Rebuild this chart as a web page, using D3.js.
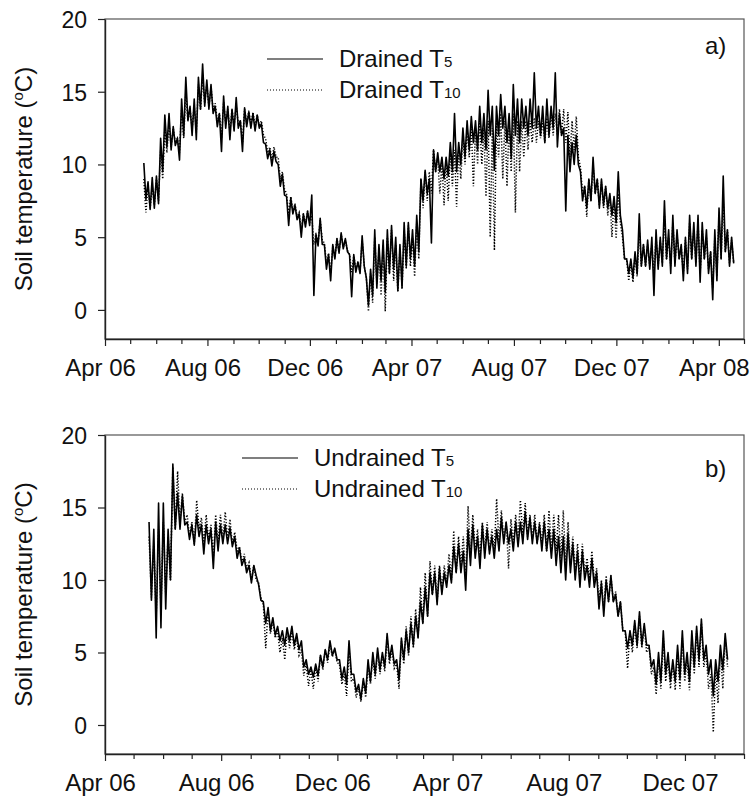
<!DOCTYPE html>
<html>
<head>
<meta charset="utf-8">
<script src="https://cdn.jsdelivr.net/npm/d3@7"></script>
<style>
  html, body { margin: 0; padding: 0; background: #fff; }
  svg { display: block; font-family: "Liberation Sans", Arial, Helvetica, sans-serif; }
</style>
</head>
<body>
<svg id="chart" width="752" height="805"></svg>
<script>
// Soil temperature records, summarised as low/high pairs over 5-day windows.
// Windows start 45 days after 1 April 2006 (16 May 2006).
const firstDay = 45;
const windowDays = 5;

// a) Drained site
const drainedT5Lo = [7.6,6.9,7.0,7.3,9.5,11.2,11.0,11.3,10.3,12.0, 13.0,12.0,11.7,13.8,14.0,13.8,13.5,12.6,10.9,12.5, 11.7,12.3,12.5,10.9,12.6,12.5,12.3,12.5,11.5,10.4, 9.9,10.2,8.5,7.9,5.8,6.6,6.2,5.0,5.7,5.8, 1.0,4.4,4.5,2.8,2.0,3.5,3.9,4.2,4.0,0.9, 2.6,2.5,3.0,0.3,1.0,1.5,2.0,1.2,2.5,2.8, 1.3,1.5,3.0,3.5,3.0,4.0,7.5,8.0,4.6,9.5, 9.5,9.0,9.2,9.5,9.5,10.0,10.5,11.0,11.5,11.0, 11.5,11.0,12.0,9.6,12.0,12.5,11.5,10.4,12.0,11.5, 12.5,12.0,12.5,12.5,12.0,11.5,12.0,12.5,11.2,12.0, 6.8,9.5,10.0,10.0,7.5,7.0,7.5,8.0,7.0,7.2, 7.0,6.5,6.0,6.5,3.5,2.5,2.2,2.5,3.0,3.0, 2.8,1.0,2.8,3.0,3.5,2.5,3.0,3.5,2.0,2.5, 3.5,3.0,1.9,3.5,2.5,0.7,2.0,3.5,4.0,3.0, 3.2];
const drainedT5Hi = [10.1,8.8,9.1,9.2,11.8,13.4,13.5,12.6,11.8,14.5, 16.0,14.0,14.5,16.0,16.9,15.8,15.5,14.0,13.5,14.7, 14.0,13.8,14.6,13.0,13.9,13.6,13.5,13.4,12.8,11.4, 11.0,10.9,10.0,9.3,7.8,7.7,7.2,6.6,6.6,6.8, 7.9,5.2,6.3,4.5,3.8,4.5,4.9,5.3,4.9,3.8, 3.8,3.3,5.1,2.2,2.8,5.5,4.5,4.8,5.5,5.8, 5.0,4.5,6.0,6.0,5.5,6.5,9.0,9.6,9.0,11.0, 10.8,10.5,10.5,11.5,13.5,11.5,12.5,13.0,13.3,13.0, 14.0,13.5,15.1,14.0,14.0,14.8,14.0,13.5,15.5,14.5, 14.5,14.0,14.5,16.3,14.0,14.0,14.5,14.0,16.3,13.5, 12.5,12.0,11.5,12.0,9.5,8.5,9.0,10.5,9.0,9.0, 8.5,8.0,7.8,9.5,5.5,3.5,3.5,4.0,6.6,4.5, 4.8,5.0,5.5,5.0,7.5,5.5,6.5,5.5,4.5,5.0, 6.5,6.0,6.5,6.0,5.5,4.0,5.5,7.0,9.2,5.5, 5.0];
const drainedT10Lo = [6.7,7.0,7.2,7.5,9.0,10.8,11.2,11.5,10.8,11.8, 13.0,12.5,12.2,13.8,14.2,14.0,13.8,13.0,11.8,12.8, 12.3,12.6,12.8,11.5,12.8,12.8,12.6,12.7,12.0,10.8, 10.3,10.5,9.0,8.3,6.5,6.8,6.4,5.6,5.9,6.0, 4.5,4.5,4.8,3.2,2.5,3.6,4.0,4.3,4.1,2.6, 2.8,2.6,3.0,-0.1,0.5,1.8,1.0,-0.1,2.5,2.0, 1.3,1.5,2.8,3.0,2.3,3.5,7.0,7.5,8.0,9.5, 8.0,7.2,7.5,8.5,7.1,9.0,10.0,10.5,8.5,10.0, 10.0,7.8,5.0,4.1,10.5,9.0,8.5,9.5,6.7,9.5, 10.5,11.0,11.5,11.5,11.8,11.5,11.8,12.0,12.0,12.0, 11.5,10.5,11.0,10.5,8.0,6.4,7.5,8.0,7.2,7.0, 6.5,5.0,4.9,6.0,3.5,2.0,1.9,2.3,3.0,3.0, 3.0,2.5,3.0,3.2,3.5,3.0,3.2,3.5,2.5,2.8, 3.5,3.2,2.5,3.5,2.8,1.5,2.3,3.5,4.0,3.2, 3.2];
const drainedT10Hi = [9.0,8.5,8.5,9.0,11.0,12.5,12.8,12.5,11.8,13.8, 15.0,13.8,14.0,15.5,16.0,15.5,15.3,14.2,13.5,14.3, 13.8,13.8,14.0,13.0,13.8,13.7,13.6,13.4,13.0,11.8, 11.2,11.2,10.5,9.5,8.0,7.8,7.3,6.7,6.6,6.8, 6.5,5.3,6.2,4.6,3.9,4.4,4.9,5.2,4.8,3.8, 3.7,3.3,4.8,2.2,2.5,5.0,4.0,4.5,5.0,5.5, 4.5,4.2,5.5,5.8,5.0,6.0,9.0,9.5,9.5,11.0, 10.5,10.0,10.2,11.0,11.0,11.0,12.0,12.5,12.5,12.5, 13.0,12.5,13.0,12.5,13.0,13.5,13.0,13.0,13.5,13.0, 13.0,13.0,13.0,13.2,13.0,13.0,13.2,13.5,13.5,13.8, 13.8,13.6,13.0,13.3,9.8,8.5,9.0,10.0,9.0,8.8, 8.5,7.8,7.5,8.0,5.0,3.5,3.3,3.8,5.5,4.5, 4.5,4.5,5.0,4.8,6.5,5.0,6.0,5.2,4.3,4.8, 6.0,5.5,6.0,5.5,5.0,4.0,5.0,6.5,7.5,5.5, 4.8];

// b) Undrained site
const undrainedT5Lo = [8.6,6.0,6.7,8.0,10.0,13.5,13.5,13.8,12.8,12.4, 13.0,11.8,12.5,10.8,12.0,12.5,12.5,12.3,11.5,11.0, 10.5,9.8,10.3,8.6,7.0,6.5,6.2,5.8,5.5,5.8, 5.5,5.2,4.0,3.5,3.3,3.4,4.0,4.5,4.8,4.5, 3.2,2.8,3.5,2.3,1.8,2.2,3.0,3.5,3.8,4.0, 4.5,4.2,3.1,4.5,5.0,5.5,6.0,7.0,7.5,9.0, 8.3,9.0,9.5,9.8,10.5,10.5,9.3,11.0,11.5,10.8, 11.5,11.8,11.5,12.0,12.5,12.5,12.0,12.3,12.5,12.8, 12.5,12.5,12.0,12.0,11.5,11.0,10.5,10.0,10.5,10.0, 9.5,10.0,9.5,9.5,8.0,7.5,8.5,8.5,7.5,6.5, 5.3,5.5,5.5,5.5,5.5,4.0,2.8,3.0,3.5,3.0, 3.0,3.2,3.5,3.0,4.0,4.5,4.5,3.5,2.0,3.0, 3.8,4.5];
const undrainedT5Hi = [14.0,13.5,15.3,15.3,13.5,18.0,16.0,15.8,14.0,13.8, 14.5,13.8,13.8,13.5,14.0,13.8,13.8,13.6,13.0,12.2, 11.5,11.0,11.0,9.7,8.5,8.1,7.4,6.8,6.5,6.7, 6.8,6.3,5.8,4.5,4.0,4.2,4.8,5.2,5.8,5.3, 4.5,4.0,5.8,3.5,2.8,3.2,4.5,5.0,5.3,5.0, 6.3,5.5,4.5,6.0,6.5,7.0,7.5,8.5,9.5,10.5, 10.5,10.8,10.5,11.0,12.3,12.5,12.0,13.5,13.8,13.0, 13.8,13.5,13.0,13.5,14.3,14.0,13.5,14.0,14.0,14.7, 14.3,14.0,13.8,14.0,13.5,13.5,13.0,13.0,13.2,12.5, 12.0,12.0,11.0,11.5,10.5,9.8,10.0,10.3,9.0,8.5, 6.5,6.5,7.2,7.8,7.0,5.5,4.5,5.0,6.5,5.0, 4.5,5.5,6.5,5.0,6.5,6.8,7.3,5.5,4.5,4.5, 5.5,6.3];
const undrainedT10Lo = [8.8,7.5,8.0,9.0,10.0,13.5,14.0,14.0,13.0,12.5, 13.5,12.5,12.8,11.5,12.5,12.8,12.8,12.5,12.0,11.2, 10.8,10.0,10.0,8.8,5.3,6.3,6.0,5.0,4.5,5.3, 5.2,4.8,3.4,2.7,2.5,3.0,3.8,4.3,4.7,4.3, 2.8,2.0,3.0,1.9,1.6,1.9,2.8,3.2,3.5,3.7, 4.2,3.9,2.5,4.2,4.8,5.3,6.0,7.0,7.5,9.0, 8.5,9.3,9.8,10.0,10.5,11.0,10.0,11.8,12.0,11.5, 12.0,12.0,12.0,12.5,12.8,10.8,12.5,12.8,13.0,13.0, 12.8,12.5,12.5,12.0,12.0,12.0,11.5,11.0,11.0,10.5, 10.0,10.5,10.0,10.0,8.5,8.0,8.5,8.5,7.5,6.5, 3.9,5.0,5.3,5.3,5.0,3.5,2.1,2.5,3.0,2.5, 2.4,2.5,3.0,2.4,3.5,4.0,4.0,2.5,-0.5,1.5, 2.5,4.0];
const undrainedT10Hi = [13.0,12.5,13.5,14.0,13.0,17.8,17.5,16.0,14.5,14.0, 15.5,14.3,14.5,13.8,14.5,14.5,14.7,14.2,13.3,12.3, 11.8,11.2,11.0,9.8,8.3,7.8,7.2,6.5,6.0,6.5, 6.5,6.0,5.2,4.2,3.8,4.0,4.8,5.2,5.6,5.2, 4.2,3.5,5.3,3.2,2.5,3.0,4.0,4.6,5.0,4.8, 6.0,5.2,4.2,5.8,6.8,7.5,8.0,9.5,10.5,11.3, 11.0,11.0,11.0,11.8,13.4,13.0,13.0,15.1,14.5,13.5, 14.0,14.0,13.5,15.6,14.8,14.0,14.2,14.5,15.5,15.3, 14.5,14.5,14.0,14.5,14.8,14.5,14.5,14.8,14.0,13.0, 12.5,12.5,11.5,12.0,10.8,10.0,10.3,10.3,9.2,8.5, 6.5,6.5,7.0,7.5,6.8,5.5,4.0,4.5,6.0,4.5, 4.2,5.0,6.0,4.5,6.0,6.5,7.0,5.0,3.5,4.0, 5.0,6.0];

const yTickValues = [0, 5, 10, 15, 20];
const labelMonths = [3, 7, 11];   // Apr, Aug, Dec get a label

const origin = new Date(2006, 3, 1);
const svg = d3.select("#chart");
const fmt = d3.timeFormat("%b %y");

// Each window becomes a high point followed by a low point.
function windowPoints(lo, hi) {
  const pts = [];
  lo.forEach((l, i) => {
    const d0 = firstDay + i * windowDays;
    pts.push({ t: d3.timeHour.offset(origin, Math.round((d0 + windowDays * 0.25) * 24)), v: hi[i] });
    pts.push({ t: d3.timeHour.offset(origin, Math.round((d0 + windowDays * 0.75) * 24)), v: l });
  });
  return pts;
}

const panels = [
  { key: "a", top: 19, bottom: 339, end: new Date(2008, 4, 1),
    t5: [drainedT5Lo, drainedT5Hi], t10: [drainedT10Lo, drainedT10Hi],
    site: "Drained", legX: 267, legY: 59, tag: "a)", tagY: 54 },
  { key: "b", top: 435, bottom: 754, end: new Date(2008, 1, 1),
    t5: [undrainedT5Lo, undrainedT5Hi], t10: [undrainedT10Lo, undrainedT10Hi],
    site: "Undrained", legX: 242, legY: 458, tag: "b)", tagY: 477 }
];

const left = 105, right = 744;

panels.forEach(p => {
  const x = d3.scaleTime().domain([origin, p.end]).range([left, right]);
  const y = d3.scaleLinear().domain([-2, 20]).range([p.bottom, p.top]);
  const g = svg.append("g");

  g.append("clipPath").attr("id", "clip-" + p.key)
    .append("rect").attr("x", left).attr("y", p.top)
    .attr("width", right - left).attr("height", p.bottom - p.top);

  // frame (top and right edges)
  g.append("rect").attr("x", left).attr("y", p.top)
    .attr("width", right - left).attr("height", p.bottom - p.top)
    .attr("fill", "none").attr("stroke", "#555").attr("stroke-width", 1.2);

  const line = d3.line().x(d => x(d.t)).y(d => y(d.v));
  const plot = g.append("g").attr("clip-path", `url(#clip-${p.key})`);

  plot.append("path").datum(windowPoints(p.t10[0], p.t10[1]))
    .attr("d", line).attr("fill", "none").attr("stroke", "#000")
    .attr("stroke-width", 1.5).attr("stroke-dasharray", "1.2,1.8");

  plot.append("path").datum(windowPoints(p.t5[0], p.t5[1]))
    .attr("d", line).attr("fill", "none").attr("stroke", "#000")
    .attr("stroke-width", 1.6).attr("stroke-linejoin", "round");

  // y axis
  const ya = g.append("g").attr("transform", `translate(${left},0)`)
    .call(d3.axisLeft(y).tickValues(yTickValues).tickSize(7).tickSizeOuter(0).tickPadding(11));
  ya.select(".domain").attr("stroke", "#222").attr("stroke-width", 1.4);
  ya.selectAll(".tick line").attr("stroke", "#222").attr("stroke-width", 1.2);
  ya.selectAll(".tick text").attr("font-size", 23).attr("fill", "#111")
    .attr("font-family", '"Liberation Sans", Arial, sans-serif').attr("dy", "0.36em");

  // x axis with monthly ticks
  const months = d3.timeMonth.range(origin, d3.timeDay.offset(p.end, 1));
  const xa = g.append("g").attr("transform", `translate(0,${p.bottom})`)
    .call(d3.axisBottom(x).tickValues(months).tickSize(5).tickSizeOuter(0)
      .tickFormat(d => labelMonths.includes(d.getMonth()) ? fmt(d) : ""));
  xa.select(".domain").attr("stroke", "#222").attr("stroke-width", 1.4);
  xa.selectAll(".tick line").attr("stroke", "#222").attr("stroke-width", 1.2)
    .attr("y2", d => labelMonths.includes(d.getMonth()) ? 7 : 5);
  xa.selectAll(".tick text").attr("font-size", 24).attr("fill", "#111")
    .attr("font-family", '"Liberation Sans", Arial, sans-serif')
    .attr("y", 37).attr("dy", 0).attr("x", -5);

  // y axis title
  const title = g.append("text")
    .attr("transform", `translate(32,${(p.top + p.bottom) / 2}) rotate(-90)`)
    .attr("text-anchor", "middle").attr("font-size", 24).attr("fill", "#111");
  title.append("tspan").text("Soil temperature (");
  title.append("tspan").attr("font-size", 15).attr("dy", -9).text("o");
  title.append("tspan").attr("dy", 9).text("C)");

  // legend
  const leg = g.append("g");
  [["5", null], ["10", "1,2"]].forEach(([depth, dash], k) => {
    const ly = p.legY + k * 31;
    leg.append("line").attr("x1", p.legX).attr("x2", p.legX + 56)
      .attr("y1", ly).attr("y2", ly).attr("stroke", "#000").attr("stroke-width", 1.2)
      .attr("stroke-dasharray", dash);
    const t = leg.append("text").attr("x", p.legX + 72).attr("y", ly + 8)
      .attr("font-size", 24).attr("fill", "#111");
    t.append("tspan").text(p.site + " T");
    t.append("tspan").attr("font-size", 15).text(depth);
  });

  g.append("text").attr("x", 705).attr("y", p.tagY)
    .attr("font-size", 24).attr("fill", "#111").text(p.tag);
});
</script>
</body>
</html>
